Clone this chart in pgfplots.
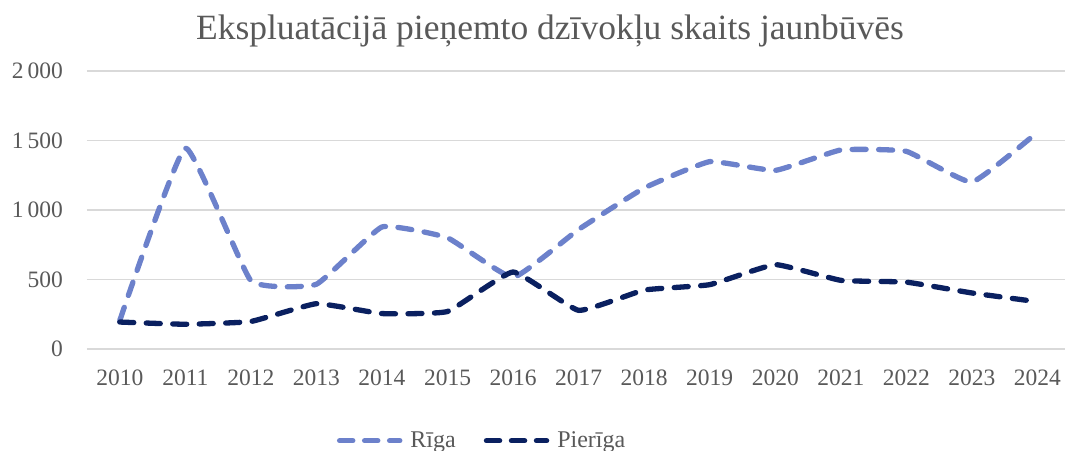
\documentclass[border=0pt]{standalone}
\usepackage{fontspec}
\setmainfont{Liberation Serif}
\usepackage{pgfplots}
\pgfplotsset{compat=1.18}
\definecolor{riga}{RGB}{108,129,203}
\definecolor{pieriga}{RGB}{10,32,96}
\definecolor{txt}{RGB}{89,89,89}
\definecolor{gridc}{RGB}{217,217,217}
\begin{document}
\begin{tikzpicture}
\begin{axis}[
  at={(0pt,0pt)}, anchor=south west,
  scale only axis, width=978pt, height=278pt,
  xmin=2009.5, xmax=2024.42, ymin=0, ymax=2000,
  xtick={2010,2011,...,2024}, ytick={0,500,1000,1500,2000},
  /pgf/number format/assume math mode=true,
  xticklabel style={/pgf/number format/1000 sep={}, inner sep=0pt, yshift=-21pt, text=txt, font=\fontsize{23.5}{28}\selectfont},
  yticklabel style={/pgf/number format/1000 sep={\,}, inner sep=0pt, xshift=-24pt, text=txt, font=\fontsize{23.5}{28}\selectfont},
  axis line style={draw=none},
  major tick style={draw=none},
  ymajorgrids, xmajorgrids=false,
  grid style={gridc, line width=1.8pt},
  legend columns=2,
  legend style={at={(0.404,-0.33)}, anchor=center, draw=none, fill=none,
    font=\fontsize{24}{28}\selectfont, text=txt,
    /tikz/every even column/.append style={column sep=26pt}},
  legend image code/.code={\draw[#1, line width=5.5pt, line cap=round, dash pattern=on 13pt off 12pt] (3pt,0pt) -- (63pt,0pt);},
  every axis plot/.append style={line width=5.3pt, line cap=round, line join=round, dash pattern=on 14pt off 12.5pt, smooth, tension=0.22},
]
\addplot[riga] coordinates {
(2010,205) (2011,1446) (2012,492) (2013,466) (2014,878) (2015,800) (2016,515)
(2017,860) (2018,1158) (2019,1348) (2020,1285) (2021,1432) (2022,1422)
(2023,1201) (2024,1560)};
\addlegendentry{\hspace{6pt}Rīga}
\addplot[pieriga] coordinates {
(2010,194) (2011,178) (2012,198) (2013,326) (2014,255) (2015,270) (2016,554)
(2017,278) (2018,424) (2019,463) (2020,607) (2021,494) (2022,481)
(2023,403) (2024,340)};
\addlegendentry{\hspace{6pt}Pierīga}
\end{axis}
\node[anchor=base, text=txt, font=\fontsize{35.5}{42}\selectfont] at (463pt,309pt) {Ekspluatācijā pieņemto dzīvokļu skaits jaunbūvēs};
\pgfresetboundingbox
\path (-87pt,-101pt) rectangle (978pt,349pt);
\end{tikzpicture}
\end{document}
